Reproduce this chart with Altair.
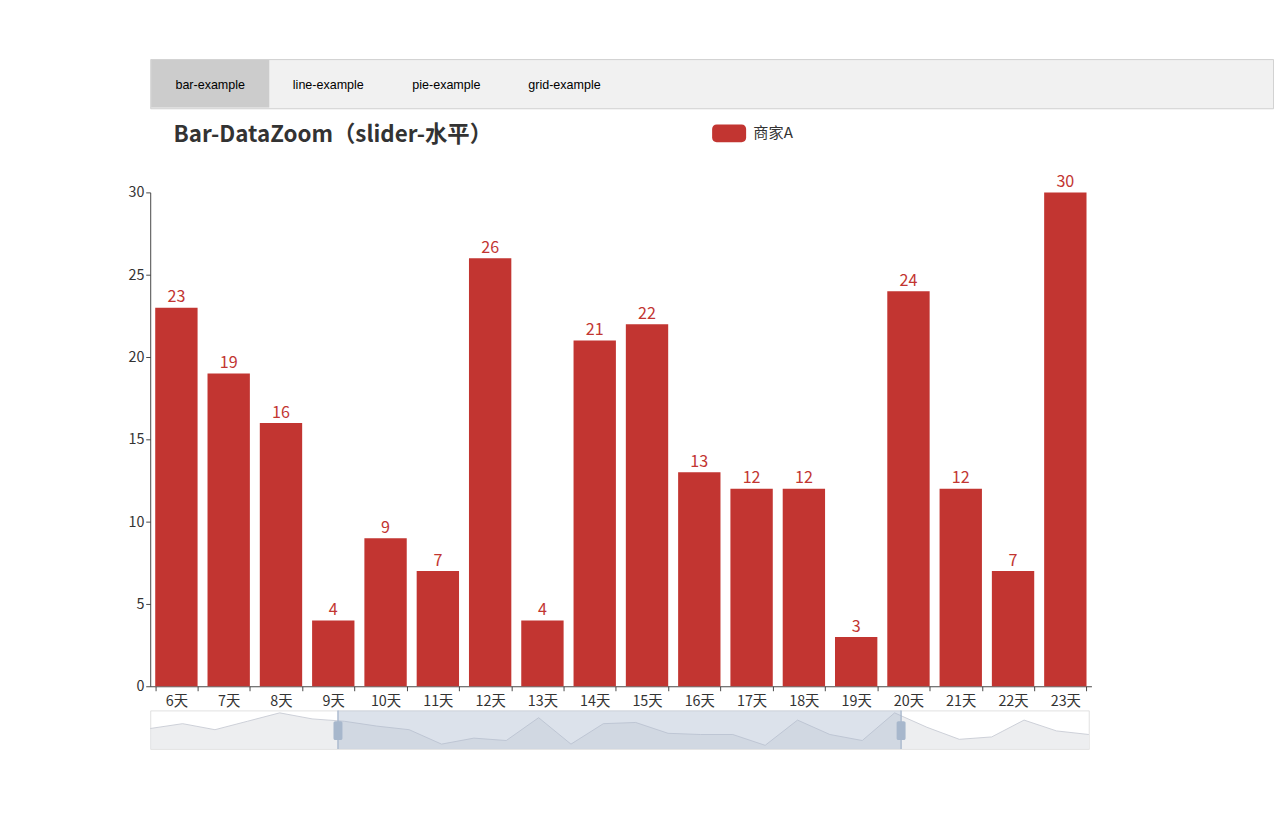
import altair as alt
import pandas as pd

tabs = ["bar-example", "line-example", "pie-example", "grid-example"]
title = "Bar-DataZoom（slider-水平）"
series_name = "商家A"
days = [f"{i}天" for i in range(30)]
values = [17, 21, 16, 23, 30, 25, 23, 19, 16, 4, 9, 7, 26, 4, 21, 22, 13, 12,
          12, 3, 24, 12, 7, 30, 18, 8, 10, 24, 15, 12]
# shown window of the slider, in percent
zoom_start, zoom_end = 20, 80

RED = "#c23531"
FONT = "Noto Sans CJK SC"

df = pd.DataFrame({"day": days, "value": values, "idx": range(len(days))})
df["pct"] = df["idx"] / (len(days) - 1) * 100
i0 = round(zoom_start / 100 * (len(days) - 1))
i1 = round(zoom_end / 100 * (len(days) - 1))
shown = df[(df["idx"] >= i0) & (df["idx"] <= i1)]

# tab strip
tab_df = pd.DataFrame({"tab": tabs})
tab_x = alt.X("tab:N", sort=None, axis=None,
              scale=alt.Scale(range=[1, 529], paddingInner=0, paddingOuter=0))
tab_bg = alt.Chart(tab_df).mark_bar().encode(
    x=tab_x, y=alt.value(1), y2=alt.value(54),
    color=alt.condition(alt.datum.tab == tabs[0], alt.value("#cccccc"), alt.value("transparent")),
)
tab_txt = alt.Chart(tab_df).mark_text(font="Liberation Sans", fontSize=14, color="#000").encode(
    x=tab_x, y=alt.value(29), text="tab:N")
tab_bar = (tab_bg + tab_txt).properties(
    width=1255, height=55, view=alt.ViewBackground(fill="#f1f1f1", stroke="#cccccc"))

# title + legend
hd = alt.Chart(pd.DataFrame({"t": [title], "s": [series_name]}))
head = (
    hd.mark_text(align="left", baseline="middle", font=FONT, fontSize=25, fontWeight="bold",
                 color="#333333").encode(text="t:N", x=alt.value(26), y=alt.value(29))
    + hd.mark_rect(color=RED, cornerRadius=5).encode(
        x=alt.value(628), x2=alt.value(666), y=alt.value(17), y2=alt.value(37))
    + hd.mark_text(align="left", baseline="middle", font=FONT, fontSize=17,
                   color="#333333").encode(text="s:N", x=alt.value(674), y=alt.value(27))
).properties(width=1255, height=73, view=alt.ViewBackground(stroke=None))

# main bars
bx = alt.X("day:N", sort=None, title=None,
           scale=alt.Scale(paddingInner=0.19, paddingOuter=0.095),
           axis=alt.Axis(labelFontSize=16, labelColor="#333333", labelFont=FONT, labelAngle=0,
                         domainColor="#333333", tickColor="#333333", tickBand="extent",
                         labelPadding=4))
by = alt.Y("value:Q", title=None, scale=alt.Scale(domain=[0, 30]),
           axis=alt.Axis(values=[0, 5, 10, 15, 20, 25, 30], grid=False, labelFontSize=16,
                         labelColor="#333333", labelFont=FONT, domainColor="#333333",
                         tickColor="#333333", minExtent=149))
bars = alt.Chart(shown).mark_bar(color=RED).encode(x=bx, y=by)
labels = alt.Chart(shown).mark_text(dy=-11, fontSize=18, font=FONT, color=RED).encode(
    x=bx, y=by, text="value:Q")
main = (bars + labels).properties(width=1052, height=552,
                                  view=alt.ViewBackground(stroke=None))

# slider minimap
mx = alt.X("pct:Q", scale=alt.Scale(domain=[0, 100], nice=False), axis=None)
my = alt.Y("value:Q", scale=alt.Scale(domain=[0, 32]),
           axis=alt.Axis(labels=False, ticks=False, domain=False, grid=False, title=None,
                         minExtent=154))
area = alt.Chart(df).mark_area(color="#e6e7ea", line={"color": "#c8ccd4", "strokeWidth": 1}).encode(
    x=mx, y=my)
win = pd.DataFrame({"a": [zoom_start], "b": [zoom_end]})
sel = alt.Chart(win).mark_rect(color="#a7b7cc", opacity=0.4).encode(
    x=alt.X("a:Q", scale=alt.Scale(domain=[0, 100])), x2="b:Q", y=alt.value(0), y2=alt.value(43))
edges = pd.DataFrame({"p": [zoom_start, zoom_end]})
edge = alt.Chart(edges).mark_rule(color="#a7b7cc", strokeWidth=1.5).encode(
    x="p:Q", y=alt.value(0), y2=alt.value(43))
handle = alt.Chart(edges).mark_rect(color="#a7b7cc", xOffset=-5, x2Offset=5, cornerRadius=2).encode(
    x="p:Q", x2="p:Q", y=alt.value(12), y2=alt.value(33))
mini = (area + sel + edge + handle).properties(
    width=1049, height=43, view=alt.ViewBackground(stroke="#dddddd"))

chart = alt.concat(tab_bar, head, main, mini, columns=1, spacing=0, align="none").properties(
    padding={"left": 4, "top": 10, "right": 0, "bottom": 0}
).configure_view(strokeWidth=1)

chart.save("out.html", embed_options={"renderer": "svg", "actions": False})
